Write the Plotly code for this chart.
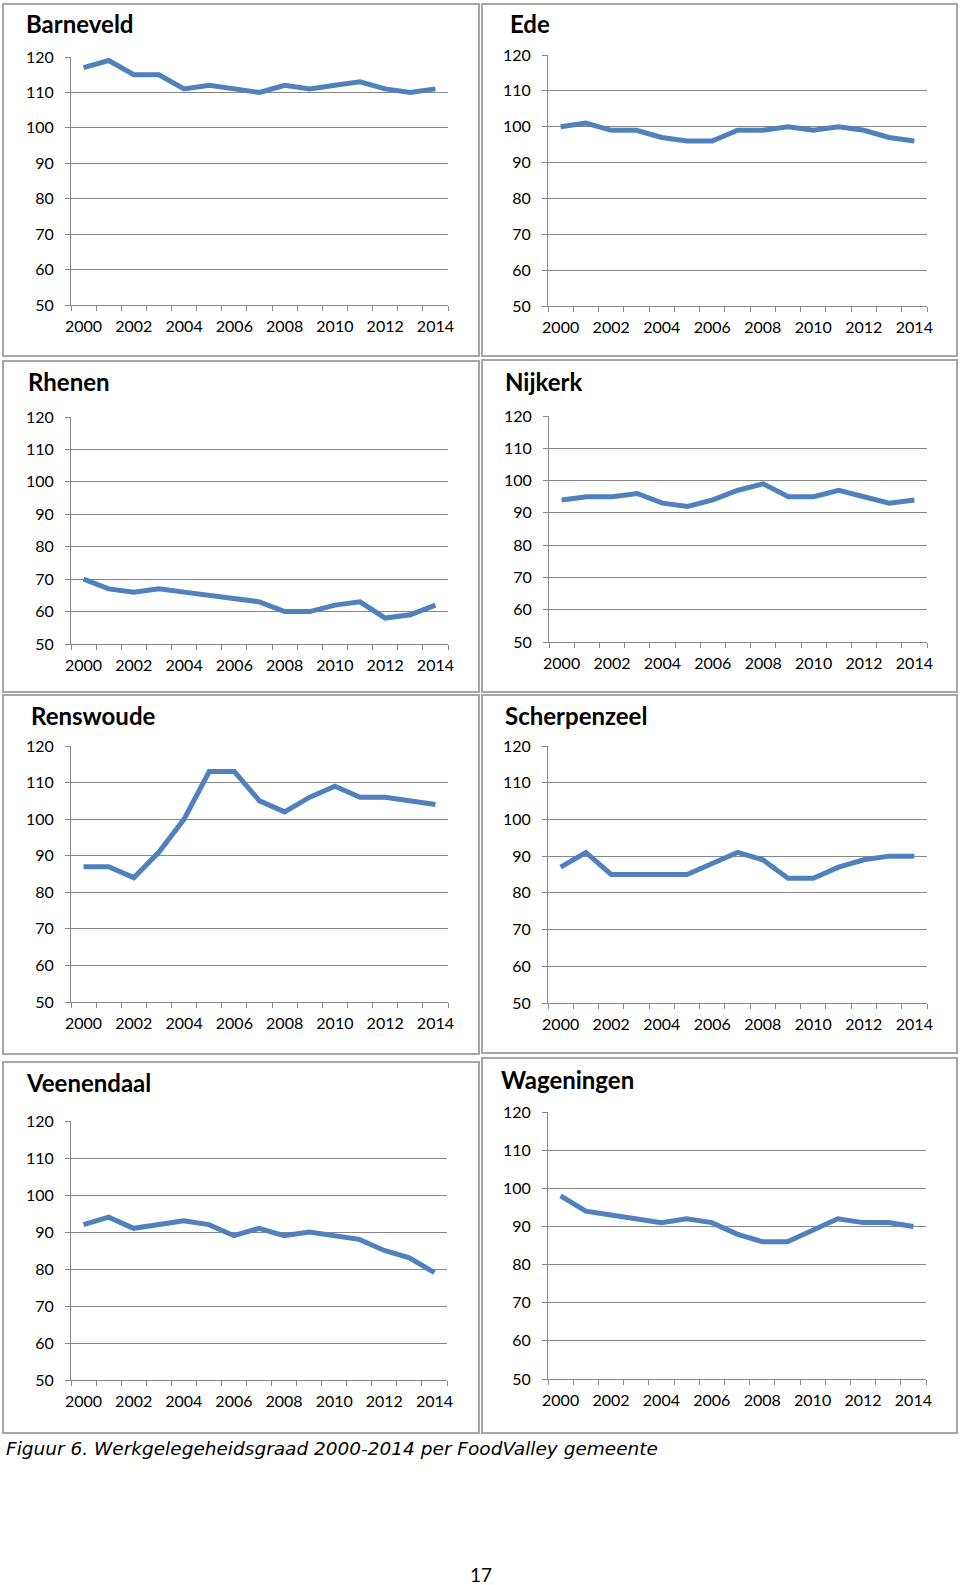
import plotly.graph_objects as go

years = list(range(2000, 2015))
year_labels = [str(y) for y in range(2000, 2015, 2)]

barneveld = [117, 119, 115, 115, 111, 112, 111, 110, 112, 111, 112, 113, 111, 110, 111]
ede = [100, 101, 99, 99, 97, 96, 96, 99, 99, 100, 99, 100, 99, 97, 96]
rhenen = [70, 67, 66, 67, 66, 65, 64, 63, 60, 60, 62, 63, 58, 59, 62]
nijkerk = [94, 95, 95, 96, 93, 92, 94, 97, 99, 95, 95, 97, 95, 93, 94]
renswoude = [87, 87, 84, 91, 100, 113, 113, 105, 102, 106, 109, 106, 106, 105, 104]
scherpenzeel = [87, 91, 85, 85, 85, 85, 88, 91, 89, 84, 84, 87, 89, 90, 90]
veenendaal = [92, 94, 91, 92, 93, 92, 89, 91, 89, 90, 89, 88, 85, 83, 79]
wageningen = [98, 94, 93, 92, 91, 92, 91, 88, 86, 86, 89, 92, 91, 91, 90]

names = ["Barneveld", "Ede", "Rhenen", "Nijkerk", "Renswoude", "Scherpenzeel",
         "Veenendaal", "Wageningen"]
series = [barneveld, ede, rhenen, nijkerk, renswoude, scherpenzeel, veenendaal, wageningen]

W, H = 960, 1585
boxes = [(3, 479, 4, 356), (482, 957, 4, 356),
         (3, 479, 361, 692), (482, 957, 360, 692),
         (3, 479, 695, 1054), (482, 957, 695, 1053),
         (3, 479, 1062, 1433), (482, 957, 1058, 1433)]
plots = [(71, 448, 57, 305), (548, 927, 55, 306),
         (71, 448, 417, 644), (549, 927, 416, 642),
         (71, 448, 746, 1002), (548, 927, 746, 1003),
         (71, 447, 1121, 1380), (548, 926, 1112, 1379)]
titles_pos = [(24, 23), (508, 24), (26, 381), (503, 381),
              (29, 715), (503, 715), (24, 1082), (499, 1079)]

def px(x):
    return x / W

def py(y):
    return 1 - y / H

fig = go.Figure()
grid_col = "#878787"
axis_col = "#878787"
line_col = "#4F81BD"
tick_font = dict(family="Lato", size=16, color="#000000")

layout = dict(width=W, height=H, autosize=False,
              margin=dict(l=0, r=0, t=0, b=0, pad=0, autoexpand=False),
              paper_bgcolor="white", plot_bgcolor="white", showlegend=False)
shapes = []
annotations = []

x_idx = list(range(len(years)))
label_idx = [i for i, y in enumerate(years) if y % 2 == 0]

for i, (name, vals) in enumerate(zip(names, series)):
    k = i + 1
    xa = "x" if k == 1 else f"x{k}"
    ya = "y" if k == 1 else f"y{k}"
    fig.add_trace(go.Scatter(x=x_idx, y=vals, mode="lines", xaxis=xa, yaxis=ya,
                             line=dict(color=line_col, width=5), hoverinfo="skip"))
    x0, x1, y0, y1 = plots[i]
    layout[f"xaxis{k}"] = dict(
        domain=[px(x0), px(x1)], anchor=ya, range=[-0.5, len(years) - 0.5],
        tickmode="array", tickvals=label_idx, ticktext=year_labels,
        ticks="", showgrid=False, zeroline=False, showline=True, automargin=False,
        linecolor=axis_col, linewidth=1, tickfont=tick_font, fixedrange=True,
        minor=dict(tickmode="linear", tick0=-0.5, dtick=1, ticks="outside",
                   ticklen=5, tickcolor=axis_col, tickwidth=1, showgrid=False),
        ticklabelstandoff=7,
    )
    layout[f"yaxis{k}"] = dict(
        domain=[py(y1), py(y0)], anchor=xa, range=[50, 120], automargin=False,
        tickmode="linear", tick0=50, dtick=10, ticks="outside", ticklen=5,
        tickcolor=axis_col, tickwidth=1, showgrid=True, gridcolor=grid_col,
        gridwidth=1, zeroline=False, showline=True, linecolor=axis_col,
        linewidth=1, tickfont=tick_font, fixedrange=True, ticklabelstandoff=8,
    )
    bx0, bx1, by0, by1 = boxes[i]
    shapes.append(dict(type="rect", xref="paper", yref="paper",
                       x0=px(bx0), x1=px(bx1), y0=py(by1), y1=py(by0),
                       line=dict(color="#A6A6A6", width=2), layer="below"))
    tx, ty = titles_pos[i]
    annotations.append(dict(text=f"<b>{name}</b>", x=px(tx), y=py(ty),
                            xref="paper", yref="paper", xanchor="left",
                            yanchor="middle", showarrow=False,
                            font=dict(family="Lato", size=24, color="#000000")))

annotations.append(dict(text="<i>Figuur 6. Werkgelegeheidsgraad 2000-2014 per FoodValley gemeente</i>",
                        x=px(4), y=py(1448), xref="paper", yref="paper",
                        xanchor="left", yanchor="middle", showarrow=False,
                        font=dict(family="DejaVu Sans", size=18.5, color="#000000")))
annotations.append(dict(text="17", x=px(481), y=py(1574), xref="paper", yref="paper",
                        xanchor="center", yanchor="middle", showarrow=False,
                        font=dict(family="Lato", size=19, color="#000000")))

layout["shapes"] = shapes
layout["annotations"] = annotations
fig.update_layout(**layout)
fig.write_html("out.html", config={"displayModeBar": False, "staticPlot": True},
               post_script="document.body.style.margin='0';document.body.style.overflow='hidden';")
